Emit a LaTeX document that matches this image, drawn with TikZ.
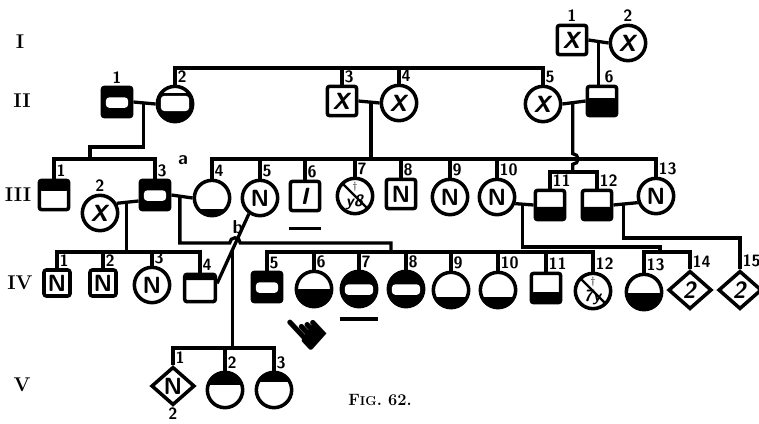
\documentclass[tikz,border=0pt]{standalone}
\usepackage{fontspec}
\newfontfamily\handfont{DejaVu Sans}
\usetikzlibrary{shapes.geometric,calc}

\tikzset{
  person/.style={draw, line width=3pt, inner sep=0pt, font=\fontsize{20}{20}\selectfont\sffamily\bfseries},
  male/.style={person, rectangle, rounded corners=2pt, minimum size=0.88cm},
  fem/.style={person, circle, minimum size=1.06cm},
  unkn/.style={person, diamond, minimum width=1.3cm, minimum height=1.15cm},
  lowfill/.style={path picture={\fill (path picture bounding box.south west) rectangle ([yshift=#1]path picture bounding box.south east);}},
  topfill/.style={path picture={\fill (path picture bounding box.north west) rectangle ([yshift=-#1]path picture bounding box.north east);}},
  barred/.style={path picture={
    \fill (path picture bounding box.south west) rectangle (path picture bounding box.north east);
    \fill[white, rounded corners=3pt] ([shift={(3pt,-5pt)}]path picture bounding box.west) rectangle ([shift={(-3pt,4pt)}]path picture bounding box.east);}},
  halfbar/.style={path picture={
    \fill (path picture bounding box.south west) rectangle ([yshift=9pt]path picture bounding box.east);
    \fill[white, rounded corners=3pt] ([shift={(3pt,-6pt)}]path picture bounding box.west) rectangle ([shift={(-3pt,7pt)}]path picture bounding box.east);}},
  slashed/.style={path picture={\draw[line width=2pt] (path picture bounding box.north west) -- (path picture bounding box.south east);}},
  lbl/.style={font=\fontsize{14}{14}\selectfont\sffamily\bfseries, inner sep=0.5pt},
  num/.style={label={[lbl,anchor=south west,xshift=1.5pt,yshift=1pt]north:#1}},
  numc/.style={label={[lbl,anchor=south,yshift=1pt]north:#1}},
  gen/.style={font=\fontsize{17}{17}\selectfont\bfseries}
}

\begin{document}
\begin{tikzpicture}[x=0.03cm,y=-0.03cm]
\useasboundingbox (0,0) rectangle (759,424);

% generations
\node[gen] (gI) at (20,42) {I};
\node[gen] (gII) at (22,101) {II};
\node[gen] (gIII) at (18,195) {III};
\node[gen] (gIV) at (20,283) {IV};
\node[gen] (gV) at (22,385) {V};

% sibship levels
\coordinate (sII) at (0,68);
\coordinate (sIII) at (0,159);
\coordinate (sIIIb) at (0,172);
\coordinate (sIV) at (0,252);
\coordinate (sV) at (0,348);

% I
\node[male, numc=1] (i1) at (572,40) {\textit{X}};
\node[fem, numc=2] (i2) at (628,43) {\textit{X}};

% II
\node[male, barred, numc=1] (ii1) at (117,102) {};
\node[fem, halfbar, num=2] (ii2) at (175,104) {};
\node[male, num=3] (ii3) at (342,101) {\textit{X}};
\node[fem, num=4] (ii4) at (399,103) {\textit{X}};
\node[fem, num=5] (ii5) at (543,104) {\textit{X}};
\node[male, lowfill=15pt, num=6] (ii6) at (602,101) {};

% III
\node[male, topfill=9pt, num=1] (iii1) at (54,195) {};
\node[fem, numc=2] (iii2) at (100,213) {\textit{X}};
\node[male, barred, num=3] (iii3) at (155,195) {};
\node[fem, lowfill=6pt, num=4] (iii4) at (212,198) {};
\node[fem, num=5] (iii5) at (260,198) {N};
\node[male, num=6] (iii6) at (305,196) {\textit{I}};
\node[fem, slashed, num=7] (iii7) at (355,196) {\shortstack{\fontsize{9}{9}\selectfont$\dagger$\\\fontsize{14}{14}\selectfont\textit{y8}}};
\node[male, num=8] (iii8) at (401,194) {N};
\node[fem, num=9] (iii9) at (450,197) {N};
\node[fem, num=10] (iii10) at (497,197) {N};
\node[male, lowfill=11pt, num=11] (iii11) at (550,205) {};
\node[male, lowfill=11pt, num=12] (iii12) at (597,205) {};
\node[fem, num=13] (iii13) at (656,196) {N};

% IV
\node[male, minimum size=0.78cm, num=1] (iv1) at (57,283) {N};
\node[male, minimum size=0.78cm, num=2] (iv2) at (103,283) {N};
\node[fem, num=3] (iv3) at (152,285) {N};
\node[male, minimum width=0.92cm, minimum height=0.82cm, topfill=5pt, num=4] (iv4) at (200,288) {};
\node[male, barred, num=5] (iv5) at (267,287) {};
\node[fem, lowfill=15pt, num=6] (iv6) at (314,289) {};
\node[fem, barred, num=7] (iv7) at (359,289) {};
\node[fem, barred, num=8] (iv8) at (406,289) {};
\node[fem, lowfill=9pt, num=9] (iv9) at (451,290) {};
\node[fem, lowfill=9pt, num=10] (iv10) at (498,290) {};
\node[male, lowfill=9pt, num=11] (iv11) at (546,288) {};
\node[fem, slashed, num=12] (iv12) at (593,291) {\shortstack{\fontsize{9}{9}\selectfont$\dagger$\\\fontsize{14}{14}\selectfont\textit{7y}}};
\node[fem, lowfill=14pt, num=13] (iv13) at (644,292) {};
\node[unkn, num=14] (iv14) at (690,290) {\textit{2}};
\node[unkn, num=15] (iv15) at (740,290) {\textit{2}};

% V
\node[unkn, num=1, label={[lbl]south:2}] (v1) at (173,386) {N};
\node[fem, topfill=11pt, num=2] (v2) at (225,390) {};
\node[fem, topfill=8pt, num=3] (v3) at (274,390) {};

\begin{scope}[line width=2.8pt]
% I and II
\draw (i1.east) -- (i2.west);
\coordinate (mI) at ($(i1.east)!0.5!(i2.west)$);
\draw (mI) -- (mI |- ii6.north);
\draw (ii2.north) |- (ii5 |- sII) -- (ii5.north);
\draw (ii3.north) -- (ii3 |- sII);
\draw (ii4.north) -- (ii4 |- sII);

\draw (ii1.east) -- (ii2.west);
\coordinate (mII12) at ($(ii1.east)!0.45!(ii2.west)$);
\coordinate (jII12) at (90,147);
\draw (mII12) |- (jII12) -- (jII12 |- sIII);
\draw (iii1.north) |- (iii3 |- sIII) -- (iii3.north);

\draw (ii3.east) -- (ii4.west);
\coordinate (mII34) at ($(ii3.east)!0.6!(ii4.west)$);
\draw (mII34) -- (mII34 |- sIII);
\draw (iii4.north) |- (iii13 |- sIII) -- (iii13.north);
\foreach \k in {5,...,10} \draw (iii\k.north) -- (iii\k |- sIII);

\draw (ii5.east) -- (ii6.west);
\coordinate (mII56) at ($(ii5.east)!0.45!(ii6.west)$);
\coordinate (xIII) at (mII56 |- sIII);
\draw (mII56) -- ([yshift=4.5pt]xIII) arc[start angle=90, end angle=-90, radius=4.5pt] -- (mII56 |- sIIIb);
\draw (iii11.north) |- (iii12 |- sIIIb) -- (iii12.north);

% III and IV
\draw (iii2.30) -- (iii3.200);
\coordinate (mIII23) at ($(iii2.30)!0.45!(iii3.200)$);
\draw (mIII23) -- (mIII23 |- sIV);
\draw (iv1.north) |- (iv4 |- sIV) -- (iv4.north);
\foreach \k in {2,3} \draw (iv\k.north) -- (iv\k |- sIV);

\draw (iii3.east) -- (iii4.west);
\coordinate (mIII34) at ($(iii3.east)!0.4!(iii4.west)$);
\coordinate (hop) at (235,243);
\coordinate (jIII34) at (391,243);
\draw (mIII34) |- ([xshift=-4.5pt]hop) arc[start angle=180, end angle=0, radius=4.5pt] -| (jIII34 |- sIV);
\draw (iv5.north) |- (iv12 |- sIV) -- (iv12.north);
\foreach \k in {6,...,11} \draw (iv\k.north) -- (iv\k |- sIV);

\draw (iii5.235) -- (iv4.15);
\coordinate (b) at ($(iii5.235)!0.52!(iv4.15)$);
\draw (b) -- (b |- sV);
\draw (v1.north) |- (v3 |- sV) -- (v3.north);
\draw (v2.north) -- (v2 |- sV);

\draw (iii10.-20) -- (iii11.west);
\coordinate (mIII1011) at ($(iii10.-20)!0.4!(iii11.west)$);
\coordinate (jIII1011) at (660,247);
\draw (mIII1011) |- (jIII1011) -- (jIII1011 |- sIV);
\draw (iv13.north) |- (iv14 |- sIV) -- (iv14.north);

\draw (iii12.east) -- (iii13.200);
\coordinate (mIII1213) at ($(iii12.east)!0.4!(iii13.200)$);
\coordinate (jIII1213) at (740,238);
\draw (mIII1213) |- (jIII1213) -- (iv15.north);

% underlines
\draw ($(iii6.south west)+(0,16)$) -- ($(iii6.south east)+(0,16)$);
\draw ($(iv7.west)+(0,30)$) -- ($(iv7.east)+(0,30)$);
\end{scope}

\node[lbl, font=\fontsize{16}{16}\selectfont\sffamily\bfseries] (a) at (183,160) {a};
\node[lbl, font=\fontsize{16}{16}\selectfont\sffamily\bfseries] (bl) at (238,227) {b};
\node[rotate=133, font=\handfont\fontsize{44}{44}\selectfont] (hand) at (309,328) {☛};
\node[font=\bfseries\fontsize{14}{14}\selectfont] (cap) at (380,400) {F{\fontsize{11}{11}\selectfont IG}. 62.};
\end{tikzpicture}
\end{document}
